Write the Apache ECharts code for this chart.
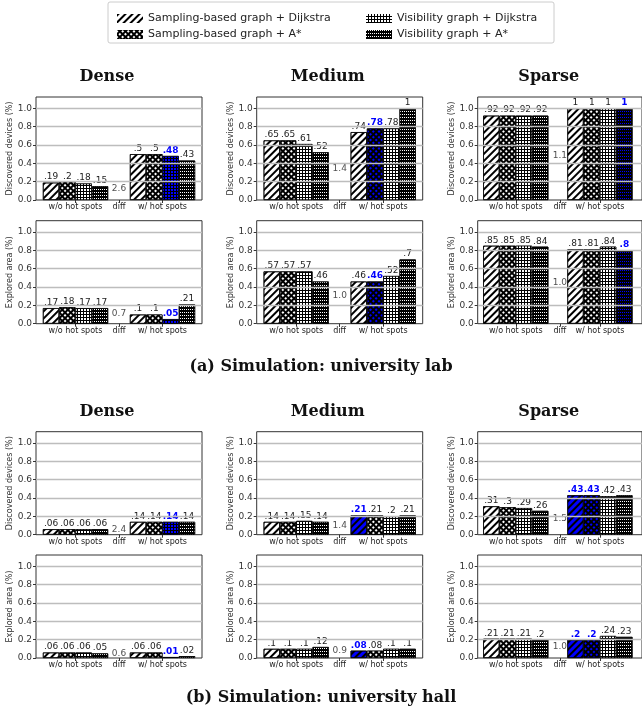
<!DOCTYPE html>
<html><head><meta charset="utf-8">
<script src="https://cdn.jsdelivr.net/npm/echarts@6/dist/echarts.min.js"></script>
<style>html,body{margin:0;padding:0;background:#fff}#c{width:642px;height:713px}</style>
</head><body><div id="c"></div>
<script>
// ---------- data ----------
const categories = ['w/o hot spots', 'diff', 'w/ hot spots'];
const seriesNames = ['Sampling-based graph + Dijkstra', 'Sampling-based graph + A*', 'Visibility graph + Dijkstra', 'Visibility graph + A*'];
const densityTitles = ['Dense', 'Medium', 'Sparse'];
const sectionCaptions = ['(a) Simulation: university lab', '(b) Simulation: university hall'];
const metricNames = ['Discovered devices (%)', 'Explored area (%)'];

// university lab
const labDevicesWithout = [[.19, .2, .18, .15], [.65, .65, .61, .52], [.92, .92, .92, .92]];
const labDevicesWith    = [[.5, .5, .48, .43], [.74, .78, .78, 1], [1, 1, 1, 1]];
const labDevicesDiff    = ['2.6', '1.4', '1.1'];
const labDevicesBlue    = [[2], [1], [3]];
const labAreaWithout = [[.17, .18, .17, .17], [.57, .57, .57, .46], [.85, .85, .85, .84]];
const labAreaWith    = [[.1, .1, .05, .21], [.46, .46, .52, .7], [.81, .81, .84, .8]];
const labAreaDiff    = ['0.7', '1.0', '1.0'];
const labAreaBlue    = [[2], [1], [3]];
// university hall
const hallDevicesWithout = [[.06, .06, .06, .06], [.14, .14, .15, .14], [.31, .3, .29, .26]];
const hallDevicesWith    = [[.14, .14, .14, .14], [.21, .21, .2, .21], [.43, .43, .42, .43]];
const hallDevicesDiff    = ['2.4', '1.4', '1.5'];
const hallDevicesBlue    = [[2], [0], [0, 1]];
const hallAreaWithout = [[.06, .06, .06, .05], [.1, .1, .1, .12], [.21, .21, .21, .2]];
const hallAreaWith    = [[.06, .06, .01, .02], [.08, .08, .1, .1], [.2, .2, .24, .23]];
const hallAreaDiff    = ['0.6', '0.9', '1.0'];
const hallAreaBlue    = [[2], [0], [0, 1]];

// ---------- layout ----------
const colLeft = [36, 256.7, 477.7];
const frameW = 166, frameH = 103, yMax = 1.123;
const rowTops = [[97, 220.7], [431.7, 555]];
const titleY = [77, 412];
const captionY = [367, 698];
const BLUE = '#0000ff';
const SANS = 'DejaVu Sans';
const barCats = [categories[0], categories[2]];
const midCats = [categories[1]];

const sections = [
  [[labDevicesWithout, labDevicesWith, labDevicesDiff, labDevicesBlue], [labAreaWithout, labAreaWith, labAreaDiff, labAreaBlue]],
  [[hallDevicesWithout, hallDevicesWith, hallDevicesDiff, hallDevicesBlue], [hallAreaWithout, hallAreaWith, hallAreaDiff, hallAreaBlue]]
];

function pattern(s, bg) {
  if (s === 0) return {color: bg, decal: {symbol: 'rect', symbolSize: 1, color: '#000', dashArrayX: [1, 0], dashArrayY: [1.2, 2.6], rotation: -Math.PI / 4}};
  if (s === 1) return {color: '#000', decal: {symbol: 'rect', symbolSize: 1, color: bg, dashArrayX: [1.8, 1.2], dashArrayY: [1.8, 1.2], rotation: Math.PI / 4}};
  if (s === 2) return {color: '#000', decal: {symbol: 'rect', symbolSize: 1, color: bg, dashArrayX: [2, 1], dashArrayY: [2, 1], rotation: 0}};
  return {color: '#000', decal: {symbol: 'rect', symbolSize: 1, color: bg, dashArrayX: [1, 1], dashArrayY: [1, 1.5], rotation: 0}};
}
const fmt = v => (v >= 1 ? '1' : String(v).replace(/^0/, ''));

const grid = [], xAxis = [], yAxis = [], series = [], graphic = [];
let k = 0;
sections.forEach((rows, si) => {
  densityTitles.forEach((t, c) => {
    graphic.push({type: 'text', x: colLeft[c] + 71, y: titleY[si], style: {text: t, font: 'bold 16px "DejaVu Serif"', fill: '#111', align: 'center', verticalAlign: 'middle'}});
  });
  graphic.push({type: 'text', x: 321, y: captionY[si], style: {text: sectionCaptions[si], font: 'bold 16px "DejaVu Serif"', fill: '#111', align: 'center', verticalAlign: 'middle'}});
  rows.forEach((row, ri) => {
    const [wo, w, diff, blue] = row;
    densityTitles.forEach((t, c) => {
      const L = colLeft[c], T = rowTops[si][ri];
      const gf = 2 * k, gb = 2 * k + 1;
      grid.push({left: L, top: T, width: frameW, height: frameH, show: true, borderColor: '#333', borderWidth: 1, backgroundColor: 'transparent'});
      grid.push({left: L - 4, top: T, width: 174, height: frameH});
      xAxis.push({gridIndex: gf, type: 'category', data: midCats,
        axisLine: {show: false}, axisTick: {show: true, alignWithLabel: true, length: 3, lineStyle: {color: '#333'}},
        axisLabel: {interval: 0, fontSize: 8, color: '#222', margin: 3, fontFamily: SANS}});
      xAxis.push({gridIndex: gb, type: 'category', data: barCats,
        axisLine: {show: false}, axisTick: {show: true, alignWithLabel: true, length: 3, lineStyle: {color: '#333'}},
        axisLabel: {interval: 0, fontSize: 8, color: '#222', margin: 3, fontFamily: SANS}});
      yAxis.push({gridIndex: gf, type: 'value', min: 0, max: yMax, interval: 0.2, z: 5,
        name: metricNames[ri], nameLocation: 'middle', nameGap: 21,
        nameTextStyle: {fontSize: 8, color: '#333', fontFamily: SANS},
        axisLine: {show: false}, axisTick: {show: true, length: 3, lineStyle: {color: '#333'}},
        axisLabel: {fontSize: 9, color: '#333', margin: 4, fontFamily: SANS, showMaxLabel: false,
          formatter: v => (v > 1.01 ? '' : v.toFixed(1))},
        splitLine: {show: true, showMinLine: false, showMaxLine: false, lineStyle: {color: '#bdbdbd', width: 1.3}}});
      yAxis.push({gridIndex: gb, type: 'value', min: 0, max: yMax, show: false});
      const c4 = c;
      for (let s = 0; s < 4; s++) {
        const base = pattern(s, '#fff');
        const isBlue = blue[c4].indexOf(s) >= 0;
        const wItem = isBlue
          ? {value: w[c4][s], itemStyle: Object.assign({borderColor: '#000', borderWidth: 0.7}, pattern(s, BLUE)),
             label: {color: BLUE, fontWeight: 'bold'}}
          : w[c4][s];
        series.push({type: 'bar', name: seriesNames[s], xAxisIndex: gb, yAxisIndex: gb,
          barWidth: 16.3, barGap: '0%', z: 2,
          itemStyle: Object.assign({borderColor: '#000', borderWidth: 0.7}, base),
          label: {show: true, position: 'top', distance: 1, fontSize: 9, color: '#222', fontFamily: SANS,
            formatter: p => fmt(p.value)},
          data: [wo[c4][s], wItem]});
      }
      const diffPos = Math.max.apply(null, wo[c4]) / 2 + 0.02;
      series.push({type: 'scatter', xAxisIndex: gf, yAxisIndex: gf, symbolSize: 0, silent: true,
        label: {show: true, position: 'inside', fontSize: 9, color: '#222', fontFamily: SANS, formatter: () => diff[c4]},
        data: [diffPos]});
      k++;
    });
  });
});

graphic.push({type: 'rect', shape: {x: 108, y: 2, width: 446, height: 41, r: 2}, style: {fill: 'none', stroke: '#cccccc', lineWidth: 1}, z: -1});

const legendCommon = {orient: 'vertical', icon: 'rect', itemWidth: 26, itemHeight: 9, itemGap: 5,
  itemStyle: {borderWidth: 0}, textStyle: {fontSize: 11, color: '#222', fontFamily: SANS}, selectedMode: false};

const option = {
  animation: false,
  backgroundColor: '#fff',
  legend: [
    Object.assign({data: [seriesNames[0], seriesNames[1]], left: 112, top: 8}, legendCommon),
    Object.assign({data: [seriesNames[2], seriesNames[3]], left: 361, top: 8}, legendCommon)
  ],
  grid, xAxis, yAxis, series, graphic
};
const chart = echarts.init(document.getElementById('c'), null, {width: 642, height: 713});
chart.setOption(option);
</script></body></html>
